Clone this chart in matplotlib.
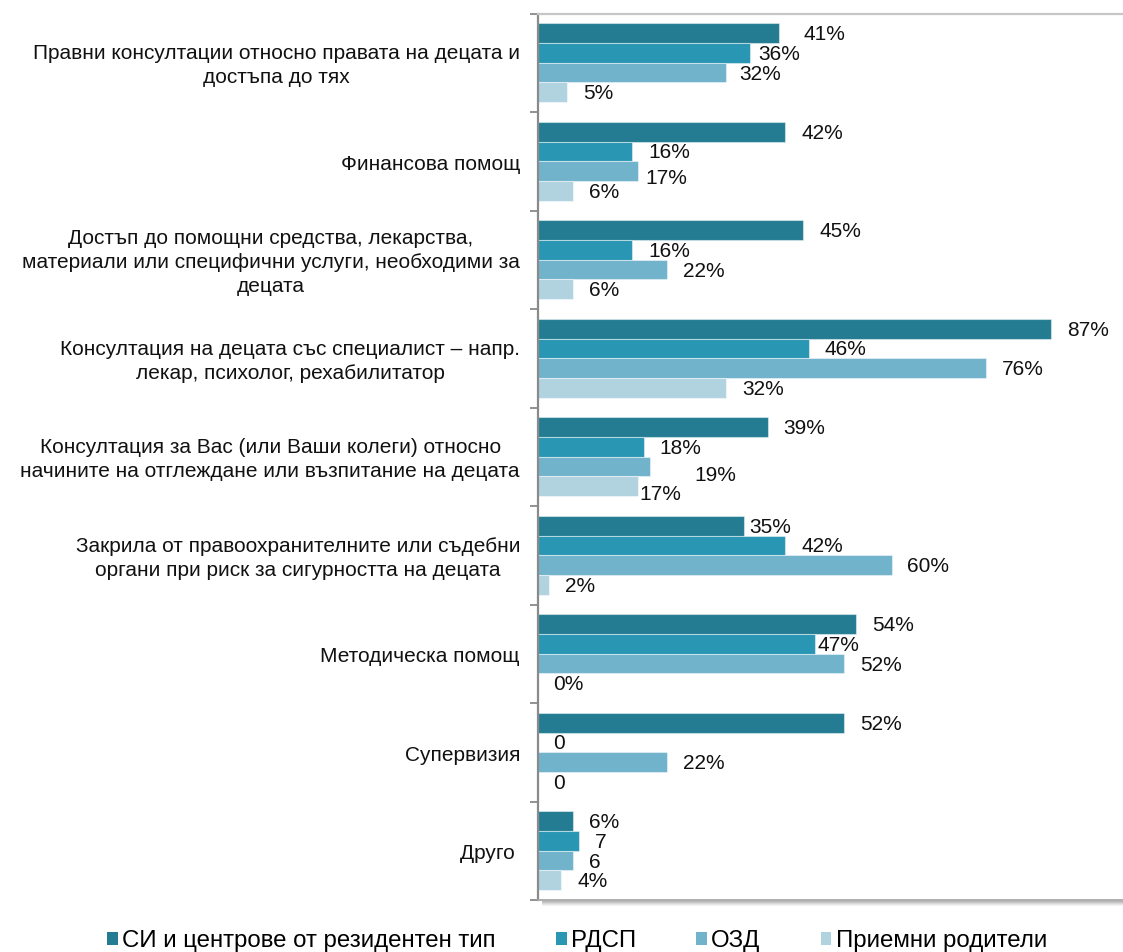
import matplotlib
matplotlib.use("Agg")
import matplotlib.pyplot as plt
from matplotlib.patches import Patch, Rectangle
import numpy as np

plt.rcParams['font.family'] = ['Liberation Sans', 'DejaVu Sans']

categories = [
    "Правни консултации относно правата на децата и\nдостъпа до тях",
    "Финансова помощ",
    "Достъп до помощни средства, лекарства,\nматериали или специфични услуги, необходими за\nдецата",
    "Консултация на децата със специалист – напр.\nлекар, психолог, рехабилитатор",
    "Консултация за Вас (или Ваши колеги) относно\nначините на отглеждане или възпитание на децата",
    "Закрила от правоохранителните или съдебни\nоргани при риск за сигурността на децата",
    "Методическа помощ",
    "Супервизия",
    "Друго ",
]

series_names = ["СИ и центрове от резидентен тип", "РДСП", "ОЗД", "Приемни родители"]

si_values = [41, 42, 45, 87, 39, 35, 54, 52, 6]
rdsp_values = [36, 16, 16, 46, 18, 42, 47, 0, 7]
ozd_values = [32, 17, 22, 76, 19, 60, 52, 22, 6]
priemni_values = [5, 6, 6, 32, 17, 2, 0, 0, 4]

si_labels = ["41%", "42%", "45%", "87%", "39%", "35%", "54%", "52%", "6%"]
rdsp_labels = ["36%", "16%", "16%", "46%", "18%", "42%", "47%", "0", "7"]
ozd_labels = ["32%", "17%", "22%", "76%", "19%", "60%", "52%", "22%", "6"]
priemni_labels = ["5%", "6%", "6%", "32%", "17%", "2%", "0%", "0", "4%"]

colors = ["#237c91", "#2996b3", "#70b3cb", "#b1d3e0"]

# label nudges in pixels (dx, dy) relative to default placement
default_nudge = (16, 1.5)
label_nudges = {
    (0, 0): (24, 1.5),
    (0, 1): (8, 1.5),
    (0, 2): (13, 1.5),
    (1, 2): (8, 7.7),
    (4, 2): (45, 9),
    (4, 3): (2, 8),
    (5, 0): (5, 1.5),
    (6, 1): (2.5, 1.5),
}

W, H, DPI = 1123, 952, 100
fig = plt.figure(figsize=(W / DPI, H / DPI), dpi=DPI)

ax_left, ax_right, ax_top, ax_bottom = 537.5, 1123, 13.5, 900
ax = fig.add_axes([ax_left / W, 1 - ax_bottom / H, (ax_right - ax_left) / W, (ax_bottom - ax_top) / H])

px_per_pct = 5.9
ax.set_xlim(0, (ax_right - ax_left) / px_per_pct)
n = len(categories)
ax.set_ylim(n, 0)

all_values = [si_values, rdsp_values, ozd_values, priemni_values]
all_labels = [si_labels, rdsp_labels, ozd_labels, priemni_labels]
bar_h = 0.2
y0 = np.arange(n)
FS = 15

for j, (vals, labs) in enumerate(zip(all_values, all_labels)):
    yc = y0 + 0.1 + bar_h * j + bar_h / 2
    ax.barh(yc, vals, height=bar_h, color=colors[j], edgecolor=(1, 1, 1, 0.45),
            linewidth=0.8, label=series_names[j], zorder=2)
    for i, (v, lab) in enumerate(zip(vals, labs)):
        dx, dy = label_nudges.get((i, j), default_nudge)
        ax.annotate(lab, xy=(v, yc[i]), xytext=(dx * 72 / DPI, -dy * 72 / DPI),
                    textcoords='offset points', ha='left', va='center',
                    fontsize=FS, color='#111111', zorder=3)

# category labels
for i, c in enumerate(categories):
    ax.annotate(c, xy=(0, i + 0.5), xycoords=ax.get_yaxis_transform(),
                xytext=(-(ax_left - 520) * 72 / DPI, -3 * 72 / DPI), textcoords='offset points',
                ha='right', va='center', multialignment='center', fontsize=FS,
                color='#111111', linespacing=1.32)

ax.set_xticks([])
ax.set_yticks(np.arange(n + 1))
ax.set_yticklabels([])
ax.tick_params(axis='y', length=5.5, width=1.3, color='#8a8a8a', direction='out')

ax.spines['right'].set_visible(False)
ax.spines['left'].set_color('#8a8a8a')
ax.spines['left'].set_linewidth(1.6)
ax.spines['top'].set_color('#c6c6c6')
ax.spines['top'].set_linewidth(1.6)
ax.spines['bottom'].set_color('#a8a8a8')
ax.spines['bottom'].set_linewidth(1.3)

# shadow under the plot area
for k, a in enumerate([0.45, 0.35, 0.25, 0.15, 0.07]):
    yb = ax_bottom + 1 + k
    fig.add_artist(Rectangle((542 / W, 1 - (yb + 1) / H), (W - 542) / W, 1 / H,
                             transform=fig.transFigure, facecolor='#606060', alpha=a,
                             edgecolor='none'))

handles = [Patch(facecolor=colors[j], edgecolor='none') for j in range(4)]
fig.legend(handles, series_names, loc='center', bbox_to_anchor=(577 / W, 1 - 941 / H),
           ncol=4, frameon=False, fontsize=17.3, handlelength=0.45, handleheight=0.45,
           handletextpad=0.18, columnspacing=2.5, borderaxespad=0, borderpad=0)

fig.savefig("out.png", dpi=DPI)
